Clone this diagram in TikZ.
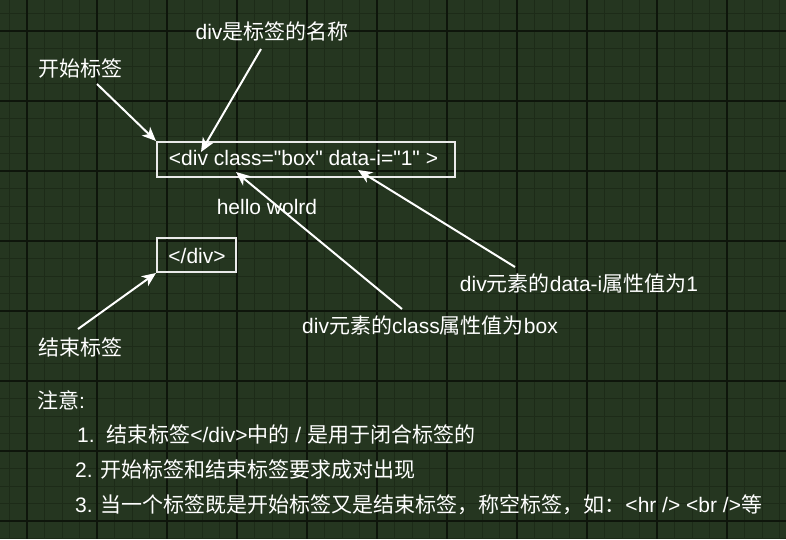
\documentclass[tikz,border=0pt]{standalone}
\usepackage{fontspec}
\setmainfont{Liberation Sans}[Ligatures=TeXOff]
\newfontfamily\cjk{Noto Sans CJK SC}
\usetikzlibrary{arrows.meta}
\definecolor{bg}{HTML}{253620}
\definecolor{minorgrid}{HTML}{1D2B18}
\definecolor{majorgrid}{HTML}{0E150B}
\definecolor{boxline}{HTML}{EAEAEA}
\begin{document}
\begin{tikzpicture}[x=1pt,y=-1pt,
  txt/.style={text=white,inner sep=0pt,font=\fontsize{21pt}{25pt}\selectfont},
  lefttxt/.style={txt,anchor=west},
  tagbox/.style={draw=boxline,line width=2pt,text=white,inner sep=0pt,font=\fontsize{21pt}{25pt}\selectfont},
  arr/.style={draw=white,line width=2pt,-{Stealth[length=14pt,width=12pt,inset=4pt]}}]
% background and grid
\fill[bg] (0,0) rectangle (786,539);
\useasboundingbox (0,0) rectangle (786,539);
\foreach \i in {0,...,44} {\draw[minorgrid,line width=1pt] (9.5+17.5*\i,0) -- (9.5+17.5*\i,539);}
\foreach \j in {0,...,30} {\draw[minorgrid,line width=1pt] (0,13.5+17.5*\j) -- (786,13.5+17.5*\j);}
\foreach \i in {0,...,10} {\draw[majorgrid,line width=1.2pt] (27+70*\i,0) -- (27+70*\i,539);}
\foreach \j in {0,...,7} {\draw[majorgrid,line width=1.2pt] (0,31+70*\j) -- (786,31+70*\j);}
% tag boxes
\node[tagbox,minimum width=298pt,minimum height=35pt] (open) at (306,159.5) {};
\node[txt] (opentxt) at (303.5,158) {<div class="box" data-i="1" >};
\node[tagbox,minimum width=79pt,minimum height=34pt] (close) at (196.5,255) {};
\node[txt] (closetxt) at (197,256) {</div>};
\node[txt] (hello) at (267,207) {hello wolrd};
% labels
\node[txt] (startlbl) at (80,69) {\cjk 开始标签};
\node[txt] (namelbl) at (272,31) {div\cjk 是标签的名称};
\node[txt] (datalbl) at (579,283) {div{\cjk 元素的}data-i{\cjk 属性值为}1};
\node[txt] (classlbl) at (430,325) {div{\cjk 元素的}class{\cjk 属性值为}box};
\node[txt] (endlbl) at (80,347) {\cjk 结束标签};
% arrows
\coordinate (s1) at (97,84);
\coordinate (s2) at (261,49);
\coordinate (t2) at (201,152);
\coordinate (s3) at (402,309);
\coordinate (t3) at (236,172);
\coordinate (s4) at (515,267);
\coordinate (t4) at (358,170);
\coordinate (s5) at (78,329);
\draw[arr] (s1) -- (open.north west);
\draw[arr] (s2) -- (t2);
\draw[arr] (s3) -- (t3);
\draw[arr] (s4) -- (t4);
\draw[arr] (s5) -- (close.south west);
% notes
\node[lefttxt] (note) at (37,400) {{\cjk 注意}:};
\node[lefttxt] (n1) at (77,435) {1.\ \ {\cjk 结束标签}</div>{\cjk 中的} / {\cjk 是用于闭合标签的}};
\node[lefttxt] (n2) at (75,470) {2. {\cjk 开始标签和结束标签要求成对出现}};
\node[lefttxt] (n3) at (75,505) {3. {\cjk 当一个标签既是开始标签又是结束标签，称空标签，如：}<hr /> <br />{\cjk 等}};
\end{tikzpicture}
\end{document}
